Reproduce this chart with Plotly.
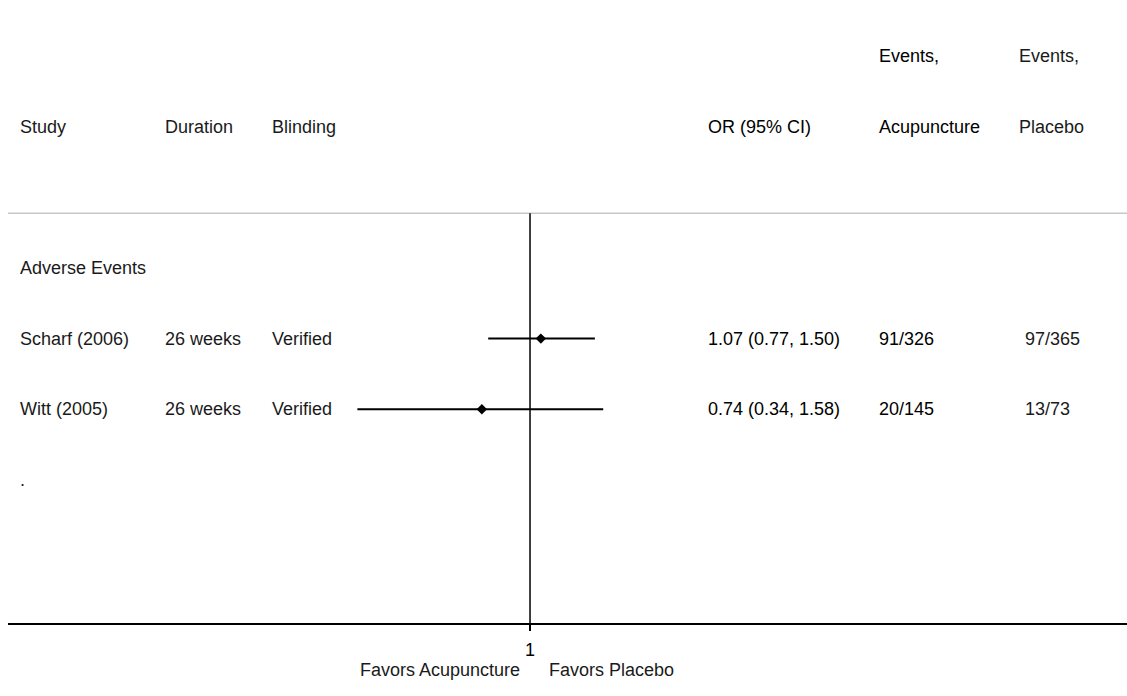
import plotly.graph_objects as go

# ---------------- data ----------------
group_label = "Adverse Events"
studies = ["Scharf (2006)", "Witt (2005)"]
durations = ["26 weeks", "26 weeks"]
blinding = ["Verified", "Verified"]
or_vals = [1.07, 0.74]
ci_low = [0.77, 0.34]
ci_high = [1.50, 1.58]
events_acu = ["91/326", "20/145"]
events_pla = ["97/365", "13/73"]
header_top = ["", "", "", "", "Events,", "Events,"]
header_bottom = ["Study", "Duration", "Blinding", "OR (95% CI)", "Acupuncture", "Placebo"]
favors_left = "Favors Acupuncture"
favors_right = "Favors Placebo"

# ---------------- layout helpers ----------------
W, H = 1127, 696
ML, MR, MT, MB = 8, 0, 0, 73
PW = W - ML - MR
FONT = "Liberation Sans, Arial, sans-serif"
FS = 18


def px2paper(px):
    return (px - ML) / PW


col_x = [19, 164, 271, 707, 878, 1018]
col_color = ["#1a1a1a", "#1a1a1a", "#1a1a1a", "#000000", "#000000", "#1a1a1a"]

study_rows = [1, 2]
group_row = 0
dot_row = 3

fig = go.Figure()

# CI lines
xs, ys = [], []
for lo, hi, r in zip(ci_low, ci_high, study_rows):
    xs += [lo, hi, None]
    ys += [r, r, None]
fig.add_trace(go.Scatter(x=xs, y=ys, mode="lines",
                         line=dict(color="black", width=2),
                         hoverinfo="skip", showlegend=False))
# point estimates
fig.add_trace(go.Scatter(x=or_vals, y=study_rows, mode="markers",
                         marker=dict(symbol="diamond", size=8, color="black"),
                         showlegend=False))

annotations = []


def add_text(txt, px, row, color="#1a1a1a", yref="y"):
    annotations.append(dict(text=txt, x=px2paper(px), xref="paper",
                            y=row, yref=yref, xanchor="left", yanchor="middle",
                            showarrow=False, borderpad=0,
                            font=dict(family=FONT, size=FS, color=color)))


# headers
for i, (t1, t2) in enumerate(zip(header_top, header_bottom)):
    if t1:
        add_text(t1, col_x[i], -3, col_color[i])
    add_text(t2, col_x[i], -2, col_color[i])

add_text(group_label, col_x[0], group_row)
for i, r in enumerate(study_rows):
    cols = [studies[i], durations[i], blinding[i],
            f"{or_vals[i]:.2f} ({ci_low[i]:.2f}, {ci_high[i]:.2f})",
            events_acu[i], events_pla[i]]
    for j, t in enumerate(cols):
        px = col_x[j] + (6 if j == 5 else 0)
        add_text(t, px, r, col_color[j])
add_text(".", col_x[0], dot_row)

# favors labels (log axis: annotation x is given in log10 units, log10(1) = 0)
annotations.append(dict(text=favors_left, x=0, xref="x", y=-0.0754, yref="paper",
                        xanchor="right", yanchor="middle", xshift=-9, showarrow=False,
                        borderpad=0,
                        font=dict(family=FONT, size=FS, color="#1a1a1a")))
annotations.append(dict(text=favors_right, x=0, xref="x", y=-0.0754, yref="paper",
                        xanchor="left", yanchor="middle", xshift=18, showarrow=False,
                        borderpad=0,
                        font=dict(family=FONT, size=FS, color="#1a1a1a")))

sep_row = -0.775
shapes = [
    dict(type="line", xref="paper", yref="y", x0=0, x1=1, y0=sep_row, y1=sep_row,
         line=dict(color="#c8c8c8", width=1.5)),
    dict(type="line", xref="x", yref="y", x0=1, x1=1, y0=sep_row, y1=5.028,
         line=dict(color="black", width=1.5)),
]

fig.update_layout(
    width=W, height=H,
    margin=dict(l=ML, r=MR, t=MT, b=MB),
    paper_bgcolor="white", plot_bgcolor="white",
    showlegend=False,
    annotations=annotations,
    shapes=shapes,
    xaxis=dict(type="log", range=[-1.417, 1.6205], showgrid=False, zeroline=False,
               showline=True, linecolor="black", linewidth=1.5,
               ticks="outside", ticklen=6, tickwidth=1.5, tickcolor="black",
               tickvals=[1], ticktext=["1"], ticklabelstandoff=4,
               tickfont=dict(family=FONT, size=FS, color="black")),
    yaxis=dict(range=[5.028, -3.796], visible=False, showgrid=False, zeroline=False),
)

fig.write_html(
    "out.html",
    config={"displayModeBar": False},
    post_script="document.body.style.margin='0';document.body.style.overflow='hidden';",
)
